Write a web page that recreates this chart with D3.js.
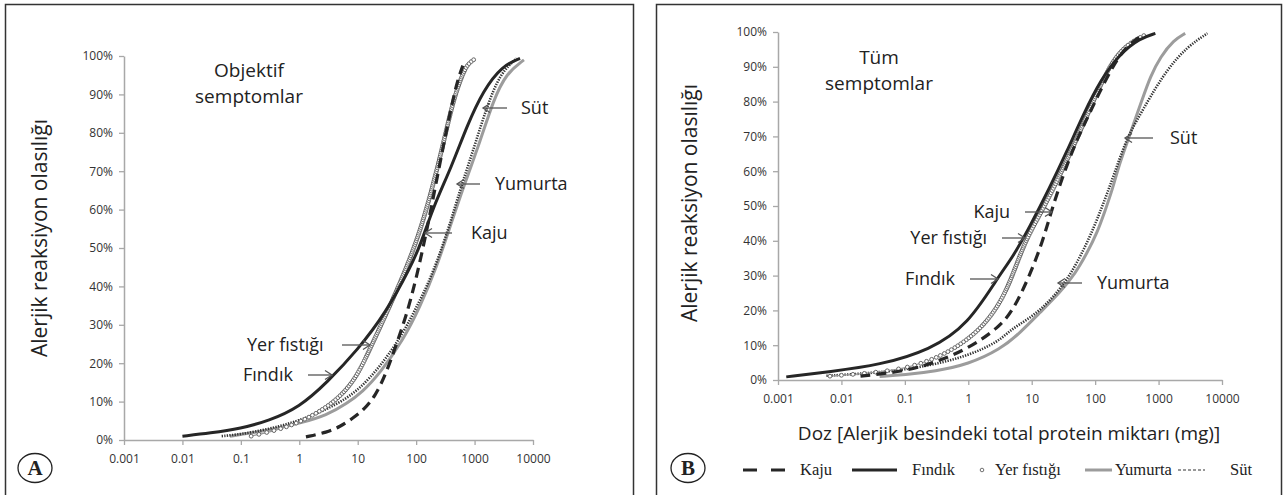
<!DOCTYPE html>
<html>
<head>
<meta charset="utf-8">
<script src="https://cdn.jsdelivr.net/npm/d3@7"></script>
<style>
  body { margin: 0; background: #fff; }
  svg { display: block; font-family: "Open Sans", sans-serif; }
</style>
</head>
<body>
<svg width="1286" height="495"></svg>
<script>
// dose-response curves: [dose (mg), probability (%)]
let doseTicks = [0.001, 0.01, 0.1, 1, 10, 100, 1000, 10000]
let pctTicks = [0, 10, 20, 30, 40, 50, 60, 70, 80, 90, 100]
let seriesNames = ["Kaju", "Fındık", "Yer fıstığı", "Yumurta", "Süt"]

// A - objektif semptomlar
let kajuA = [[1.3, 0.8], [3, 2], [5, 3.5], [8, 5.5], [13, 8], [20, 11.5], [30, 17], [45, 24.5], [70, 33],
  [100, 42], [150, 54], [240, 70], [400, 87], [520, 94], [630, 97.5]]
let findikA = [[0.01, 1], [0.03, 1.8], [0.1, 3], [0.3, 5], [1, 8.5], [3, 15], [10, 23.5], [30, 33], [80, 45],
  [120, 51], [200, 61], [400, 71], [750, 82], [1400, 91], [3000, 97.5], [6000, 99.4]]
let yerFistigiA = [[0.15, 1], [0.4, 2.5], [1, 4.5], [3, 8.5], [6, 12.5], [10, 17], [16, 23.5], [30, 32.5], [50, 40],
  [80, 47.5], [126, 56], [200, 67], [300, 78], [440, 89], [650, 96], [780, 98], [1000, 99.2]]
let yumurtaA = [[0.065, 1], [0.15, 1.8], [0.4, 3], [1, 4.3], [3, 6.5], [6.5, 9.5], [12, 12.5], [24, 17.4],
  [60, 26], [117, 34.7], [224, 45], [380, 55.5], [650, 66], [1260, 78], [2100, 88.5], [3500, 95.5], [7000, 99]]
let sutA = [[0.047, 1], [0.1, 1.5], [0.3, 2.8], [1, 5], [3, 8], [9.5, 12.2], [27, 20], [60, 27.8], [102, 34.7],
  [174, 41.7], [340, 53.8], [560, 65], [950, 75.5], [1620, 86.8], [2750, 95.5], [5250, 99.4]]

// B - tüm semptomlar
let kajuB = [[0.02, 1.1], [0.1, 2.5], [0.3, 5], [1, 9], [3, 15], [5.1, 20], [9.3, 30], [15, 40], [20, 48],
  [30, 58], [51, 69], [79, 76], [112, 82], [200, 91], [316, 96], [560, 99.2]]
let findikB = [[0.00135, 0.9], [0.0066, 2.4], [0.04, 4.3], [0.25, 8.6], [1, 16], [2.95, 29.6], [5.1, 35.5],
  [9.3, 44], [19.5, 55.5], [35.5, 65.5], [66, 76.5], [120, 86], [250, 93.9], [510, 98.2], [890, 99.6]]
let yerFistigiB = [[0.0066, 1.1], [0.04, 2.2], [0.135, 3.8], [0.46, 7.5], [1.5, 14], [3.2, 22], [5, 30],
  [7.9, 40], [14, 48], [25, 57], [51, 69], [93, 80], [174, 91], [316, 96.5], [620, 99.2]]
let yumurtaB = [[0.04, 1], [0.1, 1.5], [0.3, 2.5], [1, 4.5], [3.2, 8.8], [6.6, 13.6], [13.5, 19.4], [28, 25.2],
  [49, 30.7], [74, 36.4], [107, 42.2], [145, 48.9], [186, 54.6], [234, 61.3], [302, 67], [407, 73.8],
  [550, 80.5], [741, 87.2], [1070, 92.9], [1740, 97.7], [2630, 99.6]]
let sutB = [[0.0058, 1.2], [0.03, 2], [0.1, 3], [0.3, 4.5], [1, 7], [3, 11], [4.6, 14.4], [8.3, 17.2],
  [13.5, 20.1], [22, 23.9], [35.5, 28.7], [51, 33.5], [74, 39.3], [107, 46], [155, 53.6], [219, 61.3],
  [316, 69.4], [457, 74.7], [741, 81.4], [1350, 89.1], [2820, 95.8], [5900, 99.6]]

let svg = d3.select("svg")

let panels = [
  {
    box: [5.5, 4.5, 628], letter: "A", letterPos: [35, 468],
    xRange: [124, 533], yRange: [440, 56],
    yTitle: [40, 238],
    title: ["Objektif", "semptomlar"], titlePos: [249, 70],
    data: { "Kaju": kajuA, "Fındık": findikA, "Yer fıstığı": yerFistigiA, "Yumurta": yumurtaA, "Süt": sutA },
    // text, text x, y, anchor, arrow from, arrow tip
    labels: [
      ["Süt", 521, 108, "start", 507, 483],
      ["Yumurta", 495, 184, "start", 480, 457],
      ["Kaju", 471, 233, "start", 452, 425],
      ["Yer fıstığı", 247, 345, "start", 342, 370],
      ["Fındık", 243, 375, "start", 308, 332]
    ]
  },
  {
    box: [656.5, 4.5, 625], letter: "B", letterPos: [688, 468],
    xRange: [778, 1222], yRange: [380, 32],
    yTitle: [690, 203],
    title: ["Tüm", "semptomlar"], titlePos: [879, 57],
    data: { "Kaju": kajuB, "Fındık": findikB, "Yer fıstığı": yerFistigiB, "Yumurta": yumurtaB, "Süt": sutB },
    labels: [
      ["Kaju", 1010, 212, "end", 1025, 1052],
      ["Yer fıstığı", 987, 238, "end", 1002, 1025],
      ["Fındık", 955, 279, "end", 970, 998],
      ["Süt", 1170, 138, "start", 1153, 1125],
      ["Yumurta", 1097, 283, "start", 1082, 1058]
    ],
    xTitle: "Doz [Alerjik besindeki total protein miktarı (mg)]"
  }
]

let drawArrow = (g, x1, x2, y) => {
  let dir = x2 > x1 ? 1 : -1
  g.append("line").attr("x1", x1).attr("x2", x2).attr("y1", y).attr("y2", y)
   .attr("stroke", "#555").attr("stroke-width", 1.3)
  g.append("polyline")
   .attr("points", [[x2 - dir * 7, y - 4.5], [x2, y], [x2 - dir * 7, y + 4.5]].join(" "))
   .attr("fill", "none").attr("stroke", "#555").attr("stroke-width", 1.3)
}

// beaded line for "Yer fıstığı": a ring each time the path has moved far enough
let drawBeads = (g, d) => {
  let path = g.append("path").attr("d", d).attr("fill", "none").attr("stroke", "#999").attr("stroke-width", 1.2)
  let node = path.node()
  let len = node.getTotalLength()
  let last = null
  for (let s = 0; s <= len; s += 0.5) {
    let p = node.getPointAtLength(s)
    if (!last || Math.abs(p.y - last.y) >= 1.8 || Math.abs(p.x - last.x) >= 11) {
      g.append("circle").attr("cx", p.x).attr("cy", p.y).attr("r", 1.9)
       .attr("fill", "#fff").attr("stroke", "#666").attr("stroke-width", 1)
      last = p
    }
  }
}

let styles = {
  "Yumurta": { stroke: "#9c9c9c", width: 3, dash: null },
  "Süt": { stroke: "#333", width: 2.6, dash: "1.3 1.3" },
  "Fındık": { stroke: "#262626", width: 3, dash: null },
  "Kaju": { stroke: "#262626", width: 3.2, dash: "10 6" }
}

panels.forEach(p => {
  let g = svg.append("g")

  g.append("rect")
   .attr("x", p.box[0]).attr("y", p.box[1]).attr("width", p.box[2]).attr("height", 520)
   .attr("fill", "none").attr("stroke", "#333").attr("stroke-width", 1.5)

  let x = d3.scaleLog().domain([0.001, 10000]).range(p.xRange)
  let y = d3.scaleLinear().domain([0, 100]).range(p.yRange)

  let yAxis = d3.axisLeft(y).tickValues(pctTicks).tickFormat(d => d + "%").tickSize(5).tickSizeOuter(0).tickPadding(6)
  let xAxis = d3.axisBottom(x).tickValues(doseTicks).tickFormat(d => String(d)).tickSize(5).tickSizeOuter(0).tickPadding(9)

  let ya = g.append("g").attr("transform", "translate(" + p.xRange[0] + ",0)").call(yAxis)
  let xa = g.append("g").attr("transform", "translate(0," + p.yRange[0] + ")").call(xAxis)
  ;[ya, xa].forEach(a => {
    a.select(".domain").attr("stroke", "#a8a8a8").attr("stroke-width", 1.5)
    a.selectAll(".tick line").attr("stroke", "#a8a8a8").attr("stroke-width", 1.3)
    a.selectAll(".tick text").attr("fill", "#333").style("font-size", "12px")
     .style("font-family", "'Open Sans', sans-serif")
  })

  g.append("text")
   .attr("transform", "translate(" + p.yTitle[0] + "," + p.yTitle[1] + ") rotate(-90)")
   .attr("text-anchor", "middle").attr("dy", "0.35em")
   .style("font-size", "21px").attr("fill", "#222")
   .text("Alerjik reaksiyon olasılığı")

  if (p.xTitle) {
    g.append("text")
     .attr("x", 1009).attr("y", 433).attr("dy", "0.35em")
     .attr("text-anchor", "middle").style("font-size", "19px").attr("fill", "#222")
     .text(p.xTitle)
  }

  p.title.forEach((t, i) => {
    g.append("text").attr("x", p.titlePos[0]).attr("y", p.titlePos[1] + i * 26).attr("dy", "0.35em")
     .attr("text-anchor", "middle").style("font-size", "19px").attr("fill", "#222").text(t)
  })

  // basis spline smooths the hand-read points into the fitted S curves
  let line = d3.line().x(d => x(d[0])).y(d => y(d[1])).curve(d3.curveBasis)

  ;["Yumurta", "Süt"].forEach(name => {
    let s = styles[name]
    g.append("path").attr("d", line(p.data[name])).attr("fill", "none")
     .attr("stroke", s.stroke).attr("stroke-width", s.width).attr("stroke-dasharray", s.dash)
  })
  drawBeads(g.append("g"), line(p.data["Yer fıstığı"]))
  ;["Fındık", "Kaju"].forEach(name => {
    let s = styles[name]
    g.append("path").attr("d", line(p.data[name])).attr("fill", "none")
     .attr("stroke", s.stroke).attr("stroke-width", s.width).attr("stroke-dasharray", s.dash)
  })

  p.labels.forEach(l => {
    g.append("text").attr("x", l[1]).attr("y", l[2]).attr("dy", "0.35em")
     .attr("text-anchor", l[3]).style("font-size", "18px").attr("fill", "#222").text(l[0])
    drawArrow(g, l[4], l[5], l[2])
  })

  g.append("ellipse").attr("cx", p.letterPos[0]).attr("cy", p.letterPos[1]).attr("rx", 17).attr("ry", 14.5)
   .attr("fill", "none").attr("stroke", "#222").attr("stroke-width", 1.3)
  g.append("text").attr("x", p.letterPos[0]).attr("y", p.letterPos[1]).attr("dy", "0.35em")
   .attr("text-anchor", "middle").style("font-family", "'Liberation Serif', serif")
   .style("font-weight", "bold").style("font-size", "21px").attr("fill", "#222").text(p.letter)
})

// legend under panel B
let legend = svg.append("g").style("font-family", "'Liberation Serif', serif").style("font-size", "16.5px")
let legendItems = [
  { name: "Kaju", x1: 743, x2: 785, tx: 800 },
  { name: "Fındık", x1: 852, x2: 897, tx: 912 },
  { name: "Yer fıstığı", x1: 982, x2: 982, tx: 995 },
  { name: "Yumurta", x1: 1085, x2: 1112, tx: 1115 },
  { name: "Süt", x1: 1178, x2: 1205, tx: 1230 }
]
let ly = 470
legendItems.forEach((it, i) => {
  if (it.name === "Yer fıstığı") {
    legend.append("circle").attr("cx", it.x1).attr("cy", ly).attr("r", 1.8)
     .attr("fill", "#fff").attr("stroke", "#707070").attr("stroke-width", 1)
  } else {
    let s = it.name === "Süt" ? { stroke: "#333", width: 1.2, dash: "3 2" }
          : it.name === "Kaju" ? { stroke: "#262626", width: 3, dash: "14 14" }
          : styles[it.name]
    legend.append("line").attr("x1", it.x1).attr("x2", it.x2).attr("y1", ly).attr("y2", ly)
     .attr("stroke", s.stroke).attr("stroke-width", s.width).attr("stroke-dasharray", s.dash)
  }
  legend.append("text").attr("x", it.tx).attr("y", ly).attr("dy", "0.33em").attr("fill", "#222").text(seriesNames[i])
})
</script>
</body>
</html>
